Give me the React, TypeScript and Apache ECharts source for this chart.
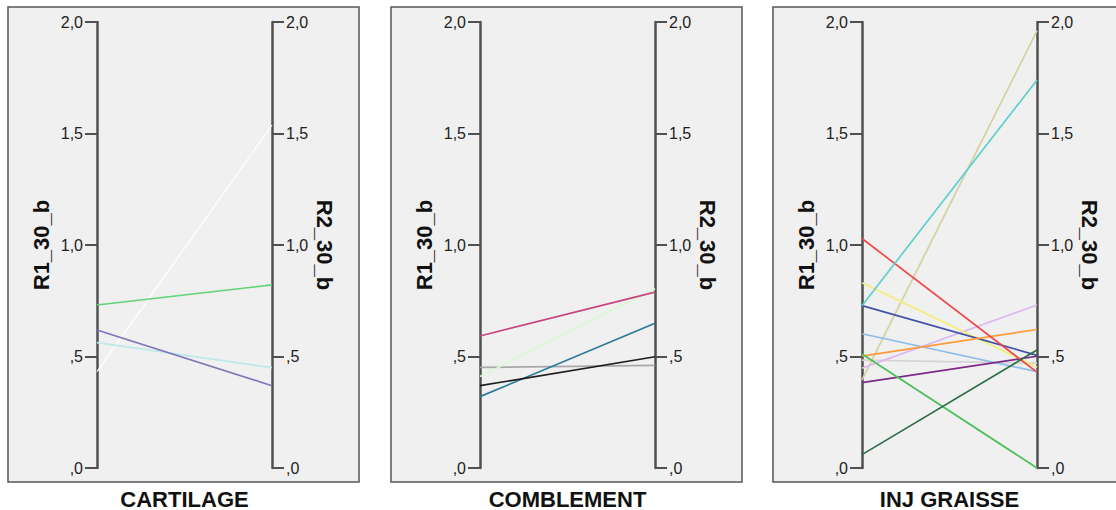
import React, { useEffect, useRef } from "react";
import * as echarts from "echarts";

// ---- Data ----
const panelTitles = ["CARTILAGE", "COMBLEMENT", "INJ GRAISSE"];
const leftAxisName = "R1_30_b";
const rightAxisName = "R2_30_b";
const dimensions = ["R1_30_b", "R2_30_b"];

const tickValues = [0, 0.5, 1.0, 1.5, 2.0];
const tickLabels = [",0", ",5", "1,0", "1,5", "2,0"];

const cartilageR1 = [0.432, 0.562, 0.619, 0.731];
const cartilageR2 = [1.538, 0.45, 0.369, 0.821];
const cartilageColors = ["#ffffff", "#bfe8ea", "#7b78b9", "#62d274"];

const comblementR1 = [0.451, 0.41, 0.32, 0.369, 0.592];
const comblementR2 = [0.46, 0.804, 0.649, 0.499, 0.789];
const comblementColors = ["#a8a8a8", "#d6fbcf", "#2e7b99", "#1e1e1e", "#c9457f"];

const injR1 = [0.484, 0.395, 0.448, 0.602, 0.831, 0.728, 0.502, 0.383, 1.029, 0.511, 0.06, 0.728];
const injR2 = [0.47, 1.961, 0.731, 0.432, 0.452, 0.505, 0.621, 0.501, 0.43, 0.0, 0.529, 1.74];
const injColors = [
  "#d4d4d4", "#d6cfa0", "#dcb6f0", "#8dbde8", "#f4ef78", "#4252a8",
  "#ff9a3c", "#7d2a87", "#f04848", "#4cc05a", "#2b6e46", "#5ccfcf",
];

const panelR1 = [cartilageR1, comblementR1, injR1];
const panelR2 = [cartilageR2, comblementR2, injR2];
const panelColors = [cartilageColors, comblementColors, injColors];

// ---- Layout ----
const panelLefts = [8, 391, 773];
const panelTop = 7;
const panelW = 351;
const panelH = 475;
const axisOffset = 89;
const axisSpan = 175;
const plotTop = 22;
const plotH = 446;
const font = "'Liberation Sans', Arial, Helvetica, sans-serif";

function fmt(v: number) {
  const i = tickValues.findIndex((t) => Math.abs(t - v) < 1e-6);
  return i >= 0 ? tickLabels[i] : "";
}

export default function App() {
  const ref = useRef<HTMLDivElement>(null);
  useEffect(() => {
    if (!ref.current) return;
    const chart = echarts.init(ref.current, undefined, { renderer: "svg" });

    const grids: any[] = [];
    const xAxes: any[] = [];
    const yAxes: any[] = [];
    const series: any[] = [];
    const graphic: any[] = [];

    panelTitles.forEach((title, p) => {
      const left = panelLefts[p] + axisOffset;
      grids.push({ left, top: plotTop, width: axisSpan, height: plotH, containLabel: false });
      xAxes.push({
        type: "category",
        gridIndex: p,
        data: dimensions,
        boundaryGap: false,
        show: false,
      });
      ["left", "right"].forEach((pos) => {
        yAxes.push({
          type: "value",
          gridIndex: p,
          position: pos,
          min: 0,
          max: 2,
          interval: 0.5,
          splitLine: { show: false },
          axisLine: { show: true, onZero: false, lineStyle: { color: "#505050", width: 2.5 } },
          axisTick: { show: true, inside: false, length: 12, lineStyle: { color: "#505050", width: 2 } },
          axisLabel: {
            show: true,
            margin: 14,
            color: "#222222",
            fontSize: 16,
            fontFamily: font,
            formatter: (v: number) => fmt(v),
          },
        });
      });
      const r1 = panelR1[p];
      const r2 = panelR2[p];
      const cols = panelColors[p];
      r1.forEach((v, j) => {
        series.push({
          type: "line",
          xAxisIndex: p,
          yAxisIndex: p * 2,
          data: [v, r2[j]],
          symbol: "none",
          silent: true,
          lineStyle: { color: cols[j], width: cols[j] === "#ffffff" ? 1.2 : 1.7 },
          z: 2 + j,
        });
      });

      // frame
      graphic.push({
        type: "rect",
        z: -10,
        shape: { x: panelLefts[p], y: panelTop, width: panelW, height: panelH },
        style: { fill: "#f0f0f0", stroke: "#555555", lineWidth: 1.5 },
        silent: true,
      });
      // axis names
      graphic.push({
        type: "text",
        x: panelLefts[p] + 33,
        y: 245,
        rotation: Math.PI / 2,
        style: {
          text: leftAxisName,
          font: `bold 22px ${font}`,
          fill: "#111111",
          align: "center",
          verticalAlign: "middle",
        },
      });
      graphic.push({
        type: "text",
        x: panelLefts[p] + 316,
        y: 245,
        rotation: -Math.PI / 2,
        style: {
          text: rightAxisName,
          font: `bold 22px ${font}`,
          fill: "#111111",
          align: "center",
          verticalAlign: "middle",
        },
      });
      // panel title
      graphic.push({
        type: "text",
        x: left + axisSpan / 2,
        y: 499,
        style: {
          text: title,
          font: `bold 22px ${font}`,
          fill: "#111111",
          align: "center",
          verticalAlign: "middle",
        },
      });
    });

    chart.setOption({
      animation: false,
      backgroundColor: "#ffffff",
      grid: grids,
      xAxis: xAxes,
      yAxis: yAxes,
      series,
      graphic,
    });
    return () => chart.dispose();
  }, []);

  return (
    <div
      ref={ref}
      style={{ position: "fixed", left: 0, top: 0, width: 1116, height: 510 }}
    />
  );
}
